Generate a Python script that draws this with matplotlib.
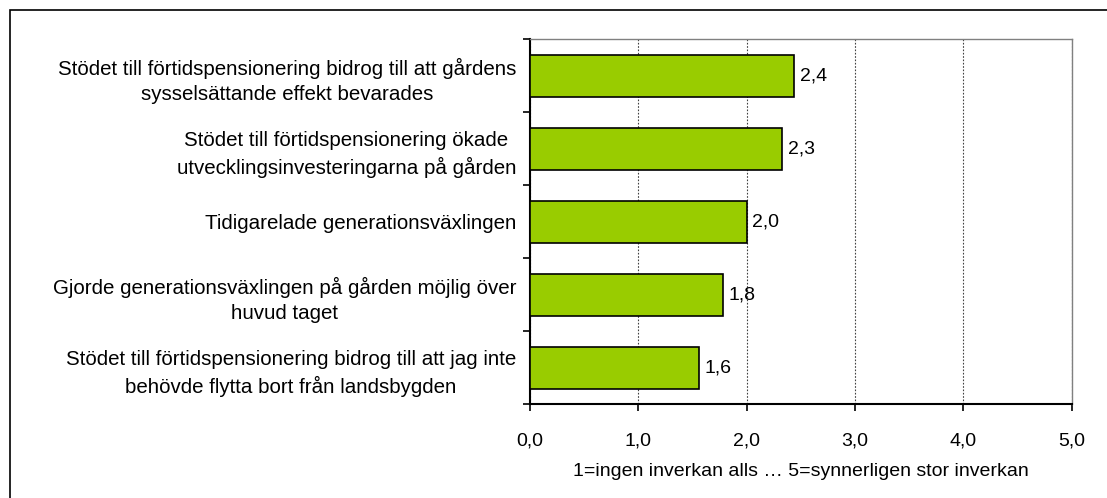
import matplotlib.pyplot as plt
from matplotlib.patches import Rectangle

plt.rcParams['font.family'] = ['Liberation Sans', 'DejaVu Sans']

categories = [
    "Stödet till förtidspensionering bidrog till att gårdens\nsysselsättande effekt bevarades",
    "Stödet till förtidspensionering ökade\nutvecklingsinvesteringarna på gården",
    "Tidigarelade generationsväxlingen",
    "Gjorde generationsväxlingen på gården möjlig över\nhuvud taget",
    "Stödet till förtidspensionering bidrog till att jag inte\nbehövde flytta bort från landsbygden",
]
values = [2.44, 2.33, 2.0, 1.78, 1.56]
x_ticks = [0, 1, 2, 3, 4, 5]
x_label = "1=ingen inverkan alls … 5=synnerligen stor inverkan"

fs = 14

fig = plt.figure(figsize=(11.07, 4.98), dpi=100)
ax = fig.add_axes([0.4788, 0.1882, 0.9681 - 0.4788, 0.9211 - 0.1882])

# figure border (only left/top visible in reference)
fig.patches.append(Rectangle((10 / 1107, -0.1), 1.2, 488 / 498 + 0.1,
                             transform=fig.transFigure, fill=False,
                             edgecolor='black', linewidth=1.2))

n = len(categories)
ypos = list(range(n))
ax.barh(ypos, values, height=0.58, color='#99CC00', edgecolor='black',
        linewidth=1.2, zorder=3)

for y, v in zip(ypos, values):
    ax.text(v + 0.05, y, f"{v:.1f}".replace('.', ','), va='center', ha='left',
            fontsize=fs, zorder=4)

ax.set_xlim(0, 5)
ax.set_ylim(n - 0.5, -0.5)
ax.set_xticks(x_ticks)
ax.set_xticklabels([f"{t:.1f}".replace('.', ',') for t in x_ticks], fontsize=fs)
ax.tick_params(axis='x', direction='out', length=5, width=1.2, pad=15)
ax.grid(axis='x', linestyle=(0, (1.5, 1.5)), color='#404040', linewidth=0.8, zorder=0)

# category boundaries as major ticks, labels on minor ticks at centres
ax.set_yticks([i - 0.5 for i in range(n + 1)])
ax.set_yticklabels([])
ax.set_yticks(ypos, minor=True)
ax.set_yticklabels(categories, minor=True, fontsize=14.8, ha='right',
                   multialignment='center', linespacing=1.4)
ax.tick_params(axis='y', which='major', direction='out', length=5, width=1.2)
ax.tick_params(axis='y', which='minor', length=0, pad=10)

for side in ('left', 'bottom'):
    ax.spines[side].set_linewidth(1.5)
for side in ('top', 'right'):
    ax.spines[side].set_color('#808080')
    ax.spines[side].set_linewidth(1.0)

ax.set_xlabel(x_label, fontsize=fs, labelpad=10)

fig.savefig('out.png', dpi=100)
